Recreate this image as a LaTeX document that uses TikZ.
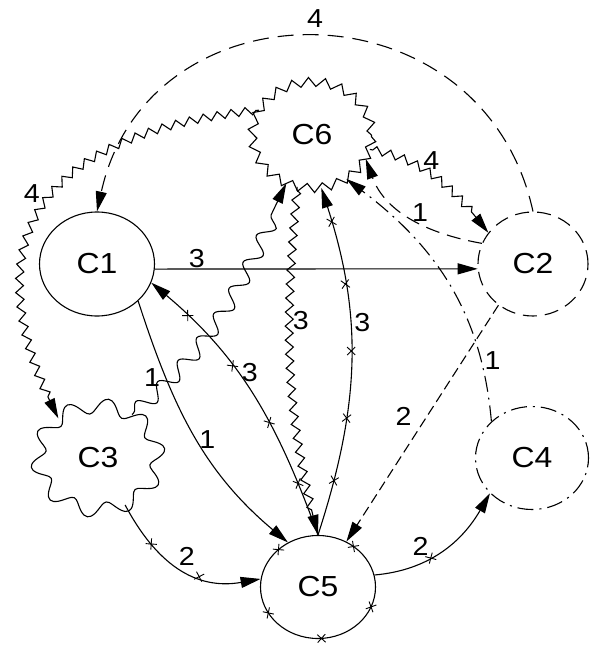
\documentclass[tikz,border=0pt]{standalone}
\usepackage{fontspec}
\setmainfont{Liberation Sans}[FakeStretch=1.1]
\usetikzlibrary{shapes.geometric,decorations.pathmorphing,decorations.markings,arrows.meta}
\newcommand\mycross{\draw[-,line width=0.9pt,solid] (-4pt,-4pt) -- (4pt,4pt) (-4pt,4pt) -- (4pt,-4pt);}
\begin{document}
\begin{tikzpicture}[x=1pt,y=-1pt,line width=1.1pt,
  tip/.style={-{Triangle[length=20pt,width=11pt]}},
  cname/.style={font=\fontsize{29}{29}\selectfont},
  lab/.style={font=\fontsize{26}{26}\selectfont,inner sep=1pt},
  ell/.style={ellipse,inner sep=0pt},
  zz/.style={decorate,decoration={zigzag,segment length=14pt,amplitude=4pt,pre length=3pt,post length=20pt}},
  wave/.style={decorate,decoration={snake,segment length=30pt,amplitude=7.5pt,pre length=2pt,post length=20pt}},
  xm/.style={postaction={decorate,decoration={markings,mark=at position #1 with {\mycross}}}},
  longdash/.style={dash pattern=on 16pt off 9pt},
  meddash/.style={dash pattern=on 14pt off 8pt},
  shortdash/.style={dash pattern=on 10pt off 5pt},
  dashdot/.style={dash pattern=on 16pt off 6pt on 2pt off 6pt},
]
\useasboundingbox (0,0) rectangle (590,645);
\node[ell,draw,cname,minimum width=115pt,minimum height=104pt] (C1) at (97,264) {C1};
\node[ell,draw,cname,meddash,minimum width=110pt,minimum height=104pt] (C2) at (533,264) {C2};
\node[ell,cname,minimum width=120pt,minimum height=104pt] (C3) at (98,458) {C3};
\draw plot[smooth cycle,domain=0:357,samples=120,variable=\t]
  ({98+(60+7.5*sin(10*\t))*cos(\t)},{458-(52+7.5*sin(10*\t))*sin(\t)});
\node[ell,draw,cname,dashdot,minimum width=113pt,minimum height=103pt] (C4) at (532,458) {C4};
\node[ell,draw,cname,minimum width=115pt,minimum height=103pt,xm=0.14,xm=0.375,xm=0.58,xm=0.76,xm=0.94] (C5) at (318,587) {C5};
\node[ell,draw,cname,decorate,decoration={zigzag,segment length=16pt,amplitude=4.5pt},minimum width=119pt,minimum height=106pt] (C6) at (312,135) {C6};

\draw[tip] (C1.-5) -- node[lab,pos=0.13,above] {3} (C2.185);
\draw[tip,longdash] (C2.north) .. controls (482,-21) and (148,-21) .. node[lab,pos=0.5,above=8pt] {4} (C1.north);
\draw[tip,zz] (C6.155) .. controls (79,128) and (-48,211) .. node[lab,pos=0.5,left=10pt] {4} (C3.135);
\draw[tip,zz] (C6.-14) to[out=-10,in=128] node[lab,pos=0.45,above=3pt] {4} (C2.145);
\draw[tip,meddash] (C2.158) to[out=170,in=-70] node[lab,pos=0.42,above] {1} (C6.-24);
\draw[tip,dashdot] (C4.138) to[out=95,in=-37] node[lab,pos=0.2,right=2pt] {1} (C6.-52);
\draw[tip] (C1.-42) to[out=-72,in=140] node[lab,pos=0.52,right=1pt] {1} (C5.124);
\draw[tip,xm=0.18,xm=0.4,xm=0.62,xm=0.84] (C5.north) to[out=110,in=-40] node[lab,pos=0.6,right=3pt] {3} (C1.-19);
\draw[tip,xm=0.16,xm=0.34,xm=0.53,xm=0.72,xm=0.9] (C5.north) to[out=72,in=-72] node[lab,pos=0.62,right=3pt] {3} (C6.-80);
\draw[tip,zz] (C6.-106) to[out=-95,in=105] node[lab,pos=0.37,right=2pt] {3} (C5.north);
\draw[tip,wave] (C3.52) to[out=40,in=-116] node[lab,pos=0.18,left=10pt] {1} (C6.-118);
\draw[tip,xm=0.28,xm=0.63] (C3.-60) to[out=-62,in=190,looseness=1.1] node[lab,pos=0.55,above=5pt] {2} (C5.172);
\draw[tip,shortdash] (C2.-130) -- node[lab,pos=0.47,left=14pt] {2} (C5.58);
\draw[tip,xm=0.4] (C5.12) to[out=5,in=-120] node[lab,pos=0.4,above left=1pt] {2} (C4.-140);
\end{tikzpicture}
\end{document}
